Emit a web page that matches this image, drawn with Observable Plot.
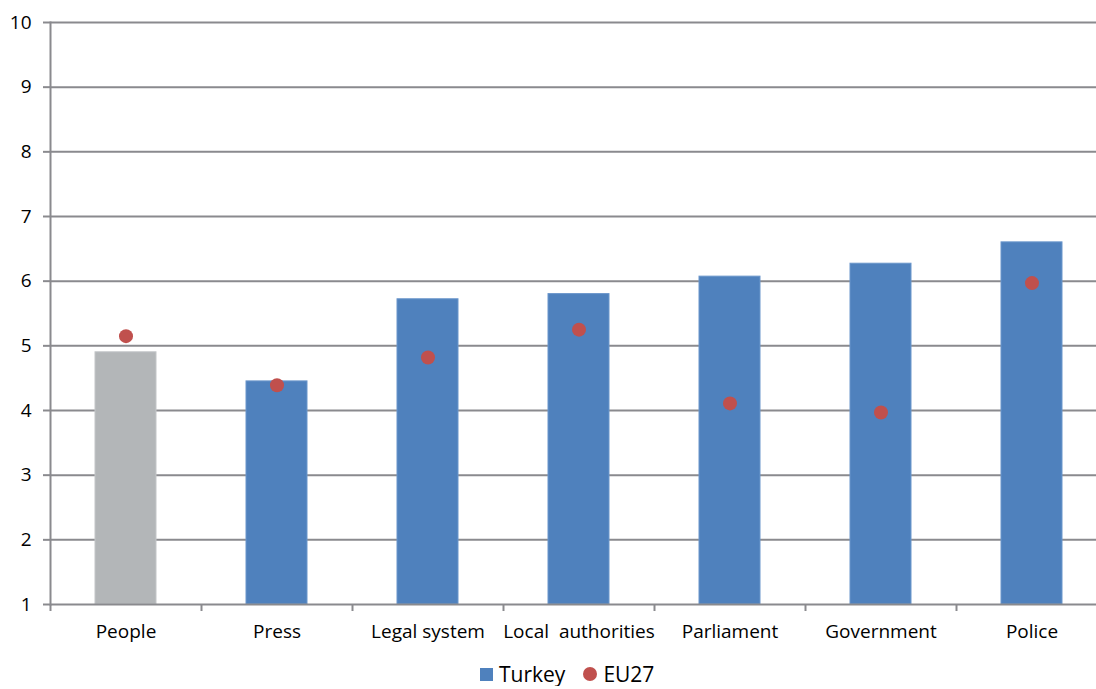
<!DOCTYPE html>
<html>
<head>
<meta charset="utf-8">
<script src="https://cdn.jsdelivr.net/npm/d3@7"></script>
<script src="https://cdn.jsdelivr.net/npm/@observablehq/plot@0.6"></script>
<style>
  html, body { margin: 0; padding: 0; background: #fff; overflow: hidden; }
  #chart svg text { white-space: pre; }
  .legend {
    display: flex; align-items: center; justify-content: flex-start;
    font-family: "Open Sans", sans-serif; font-size: 21px; color: #000;
    margin-left: 480px; margin-top: -4px; line-height: 1; height: 24px;
  }
  .legend .sw { display: inline-block; width: 13px; height: 13px; margin-right: 6px; }
  .legend .dot { display: inline-block; width: 14px; height: 14px; border-radius: 50%; margin: 0 6px 0 18px; }
</style>
</head>
<body>
<div id="chart"></div>
<script>
// Trust ratings (scale 1–10)
const categories = ["People", "Press", "Legal system", "Local  authorities", "Parliament", "Government", "Police"];
const turkey = [4.90, 4.45, 5.72, 5.80, 6.07, 6.27, 6.60];
const eu27   = [5.15, 4.39, 4.82, 5.25, 4.11, 3.97, 5.97];
const yTicks = [1, 2, 3, 4, 5, 6, 7, 8, 9, 10];

const blue = "#4F81BD";
const gray = "#B3B6B8";
const red  = "#C0504D";
const grid = "#8A8A8E";

const rows = categories.map((c, i) => ({category: c, turkey: turkey[i], eu27: eu27[i]}));

const width = 1096, height = 666;
const marginLeft = 50;
const nBands = categories.length;
// band step chosen so that seven bands run past the right edge of the frame
const step = 151;

const chart = Plot.plot({
  width, height,
  marginLeft, marginRight: 0, marginTop: 22, marginBottom: 62,
  style: {fontFamily: "'Open Sans', sans-serif", fontSize: "19px", color: "#000", background: "#fff"},
  x: {domain: categories, range: [marginLeft, marginLeft + step * nBands], paddingInner: 0.596, paddingOuter: 0.298, align: 0.5},
  y: {domain: [1, 10]},
  marks: [
    Plot.ruleY(yTicks.slice(1), {stroke: grid, strokeWidth: 2}),
    Plot.barY(rows, {
      x: "category", y1: 1, y2: "turkey",
      fill: d => d.category === "People" ? gray : blue,
      stroke: d => d.category === "People" ? "#c3c6c8" : "#6B96CB",
      strokeWidth: 1
    }),
    Plot.ruleY([1], {stroke: grid, strokeWidth: 2}),
    Plot.ruleX(categories, {x: d => d, dx: -step / 2, y1: 1, y2: 1, insetBottom: -7, stroke: grid, strokeWidth: 2}),
    Plot.frame({anchor: "left", stroke: grid, strokeWidth: 2}),
    Plot.axisY({ticks: yTicks, tickSize: 7, tickPadding: 12, stroke: grid, strokeWidth: 2, fill: "#000", label: null, fontSize: 19}),
    Plot.axisX({tickSize: 0, tickPadding: 20, fill: "#000", label: null, fontSize: 19}),
    Plot.dot(rows, {x: "category", y: "eu27", r: 7, fill: red, stroke: null})
  ]
});

document.getElementById("chart").appendChild(chart);

const legend = document.createElement("div");
legend.className = "legend";
legend.innerHTML =
  `<span class="sw" style="background:${blue}"></span><span>Turkey</span>` +
  `<span class="dot" style="background:${red}"></span><span>EU27</span>`;
document.getElementById("chart").appendChild(legend);
</script>
</body>
</html>
